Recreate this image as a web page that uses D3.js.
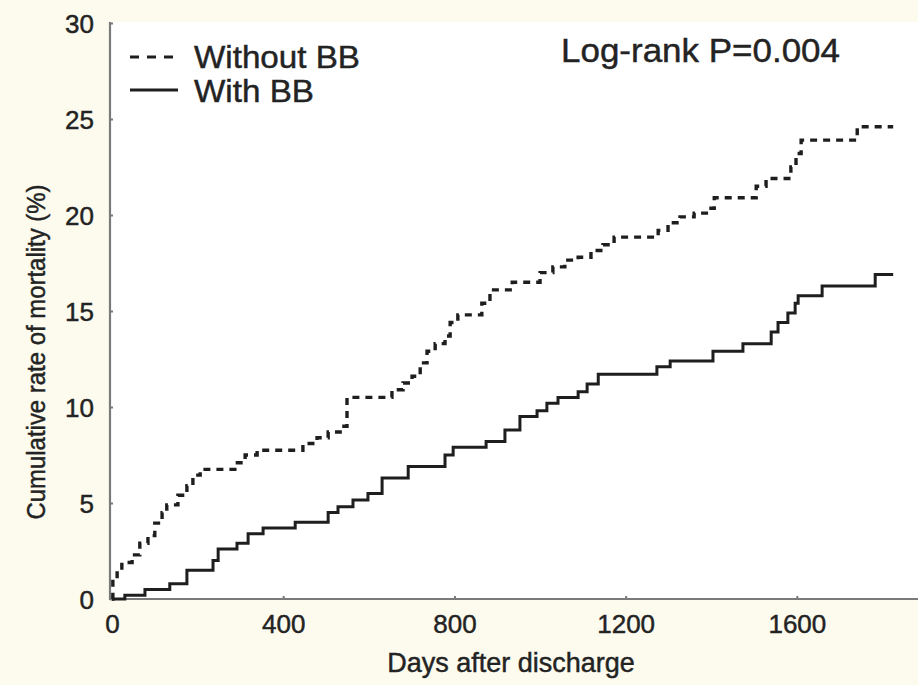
<!DOCTYPE html>
<html>
<head>
<meta charset="utf-8">
<script src="https://cdn.jsdelivr.net/npm/d3@7"></script>
<style>
  html, body { margin: 0; padding: 0; background: #fdfbee; }
  svg { display: block; }
  text { font-family: "Liberation Sans", Arial, sans-serif; fill: #232323; stroke: #232323; stroke-width: 0.45px; }
</style>
</head>
<body>
<svg id="chart" width="918" height="685"></svg>
<script>
// Kaplan-Meier cumulative mortality, by beta-blocker use at discharge
const withoutDays = [0, 2, 12, 23, 47, 65, 84, 100, 117, 128, 154, 175, 189, 206, 287, 311, 339, 446, 479, 505,
  533, 549, 654, 680, 701, 720, 736, 755, 778, 790, 808, 864, 883, 935, 1000, 1030, 1058, 1089, 1119, 1147,
  1173, 1276, 1299, 1327, 1360, 1393, 1407, 1505, 1528, 1586, 1598, 1610, 1741, 1825];
const withoutRate = [0, 1.0, 1.5, 1.9, 2.3, 2.9, 3.3, 3.95, 4.5, 4.9, 5.4, 5.9, 6.45, 6.75, 7.1, 7.5, 7.75, 8.1, 8.4, 8.7,
  9.0, 10.5, 10.9, 11.25, 11.6, 12.3, 12.9, 13.3, 13.7, 14.4, 14.8, 15.4, 16.1, 16.5, 17.0, 17.3, 17.65, 17.8, 18.15, 18.45,
  18.85, 19.2, 19.6, 19.9, 20.1, 20.35, 20.9, 21.5, 21.9, 22.5, 23.2, 23.9, 24.6, 24.6];

const withDays = [0, 30, 77, 135, 175, 236, 248, 292, 318, 353, 428, 505, 528, 563, 598, 631, 692, 778, 797, 874,
  918, 953, 993, 1016, 1042, 1089, 1110, 1136, 1273, 1304, 1404, 1474, 1540, 1556, 1579, 1596, 1603, 1659, 1783, 1825];
const withRate = [0, 0.2, 0.5, 0.8, 1.5, 2.0, 2.6, 2.9, 3.4, 3.7, 4.0, 4.5, 4.8, 5.15, 5.5, 6.3, 6.9, 7.5, 7.9, 8.2,
  8.8, 9.5, 9.8, 10.2, 10.5, 10.8, 11.2, 11.7, 12.1, 12.4, 12.9, 13.3, 13.9, 14.4, 14.9, 15.4, 15.8, 16.3, 16.9, 16.9];

const xTicks = [0, 400, 800, 1200, 1600];
const yTicks = [0, 5, 10, 15, 20, 25, 30];
const seriesNames = ["Without BB", "With BB"];
const pLabel = "Log-rank P=0.004";
const xTitle = "Days after discharge";
const yTitle = "Cumulative rate of mortality (%)";

const svg = d3.select("#chart");
const W = 918, H = 685;
const plotLeft = 110, plotTop = 22, plotBottom = 599;

const x = d3.scaleLinear().domain([0, 1883]).range([112, W]);
const y = d3.scaleLinear().domain([0, 30]).range([plotBottom, 23]);

// page and plot backgrounds
svg.append("rect").attr("width", W).attr("height", H).attr("fill", "#fdfbee");
svg.append("rect").attr("x", plotLeft).attr("y", plotTop).attr("width", W - plotLeft)
  .attr("height", plotBottom - plotTop).attr("fill", "#ffffff");

// axes: tiny inward ticks, plain integer labels
const xAxis = d3.axisBottom(x).tickValues(xTicks).tickFormat(d3.format("d")).tickSize(-3).tickPadding(15);
const yAxis = d3.axisLeft(y).tickValues(yTicks).tickFormat(d3.format("d")).tickSize(-3).tickPadding(16);

const gx = svg.append("g").attr("transform", `translate(0,${plotBottom})`).call(xAxis);
const gy = svg.append("g").attr("transform", `translate(${plotLeft},0)`).call(yAxis);

[gx, gy].forEach(g => {
  g.select(".domain").remove();
  g.selectAll(".tick line").attr("stroke", "#777").attr("stroke-width", 2);
  g.selectAll(".tick text").style("font-size", "26px").style("fill", "#232323")
    .attr("font-family", "Liberation Sans, Arial, sans-serif");
});
gy.selectAll(".tick text").attr("dy", "0.36em");
gx.selectAll(".tick text").attr("dy", "0.72em");

svg.append("line").attr("x1", plotLeft).attr("x2", plotLeft).attr("y1", plotTop).attr("y2", plotBottom + 1)
  .attr("stroke", "#7a7a7a").attr("stroke-width", 2.2);
svg.append("line").attr("x1", plotLeft - 1).attr("x2", W).attr("y1", plotBottom).attr("y2", plotBottom)
  .attr("stroke", "#7a7a7a").attr("stroke-width", 2.2);

// step curves
const step = d3.line().x(d => x(d[0])).y(d => y(d[1])).curve(d3.curveStepAfter);
const withoutData = d3.zip(withoutDays, withoutRate);
const withData = d3.zip(withDays, withRate);

svg.append("path").datum(withoutData).attr("d", step)
  .attr("fill", "none").attr("stroke", "#1e1e1e").attr("stroke-width", 3.4)
  .attr("stroke-dasharray", "7,6");
svg.append("path").datum(withData).attr("d", step)
  .attr("fill", "none").attr("stroke", "#1e1e1e").attr("stroke-width", 3);

// legend
const legend = svg.append("g");
legend.append("line").attr("x1", 130).attr("x2", 175).attr("y1", 57).attr("y2", 57)
  .attr("stroke", "#1e1e1e").attr("stroke-width", 3).attr("stroke-dasharray", "9,8");
legend.append("line").attr("x1", 130).attr("x2", 178).attr("y1", 90).attr("y2", 90)
  .attr("stroke", "#1e1e1e").attr("stroke-width", 3);
legend.append("text").attr("x", 194).attr("y", 68).style("font-size", "32px")
  .attr("textLength", 166).attr("lengthAdjust", "spacingAndGlyphs").text(seriesNames[0]);
legend.append("text").attr("x", 194).attr("y", 102).style("font-size", "32px")
  .attr("textLength", 120).attr("lengthAdjust", "spacingAndGlyphs").text(seriesNames[1]);

// test result
svg.append("text").attr("x", 561).attr("y", 62).style("font-size", "34px")
  .attr("textLength", 279).attr("lengthAdjust", "spacingAndGlyphs").text(pLabel);

// axis titles
svg.append("text").attr("x", 511).attr("y", 672).attr("text-anchor", "middle")
  .style("font-size", "27px").text(xTitle);
svg.append("text").attr("transform", "translate(45,352) rotate(-90)").attr("text-anchor", "middle")
  .style("font-size", "26px").attr("textLength", 335).attr("lengthAdjust", "spacingAndGlyphs").text(yTitle);
</script>
</body>
</html>
